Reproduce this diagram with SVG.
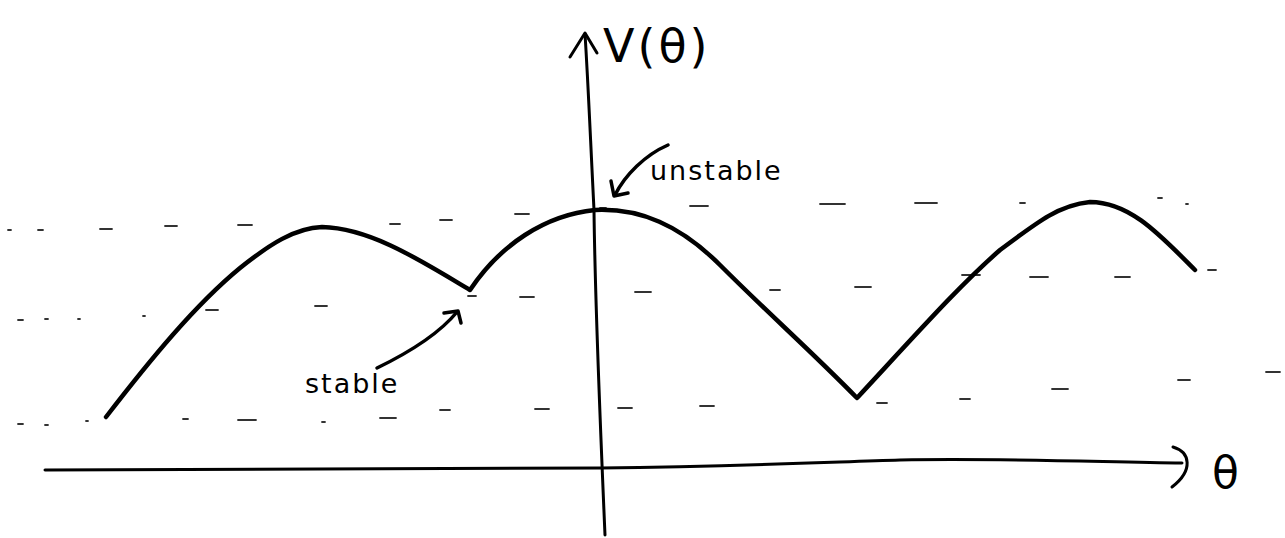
<svg xmlns="http://www.w3.org/2000/svg" width="1285" height="538" viewBox="0 0 1285 538">
<style>
.ink{fill:none;stroke:#000;stroke-linecap:round;stroke-linejoin:round}
.curve{stroke-width:4.5}
.axis{stroke-width:3}
.lbl{stroke-width:3.5}
.dash{stroke:#333;stroke-width:1.8;stroke-linecap:round}
.t{font-family:"DejaVu Sans","Liberation Sans",sans-serif;fill:#000}
</style>
<rect width="1285" height="538" fill="#fff"/>
<g id="guides">
<path class="dash" d="M8 230h3M38 230h5M100 229h12M165 226h12M238 225h14M390 224h10M440 220h12M515 214h14M600 208h6M690 206h18M820 204h25M915 203h22M1020 203h5M1158 198h4M1186 204h2"/>
<path class="dash" d="M18 320h5M45 319h3M78 319h2M143 316h2M206 310h12M315 306h12M468 296h8M520 297h14M635 292h16M770 290h10M855 287h16M962 275h18M1030 277h18M1115 277h15M1208 270h8"/>
<path class="dash" d="M18 424h5M45 425h3M86 421h2M183 419h5M238 420h18M322 422h3M380 418h16M440 410h10M535 409h14M618 408h14M700 406h14M877 403h10M960 399h10M1052 389h16M1178 380h12M1266 372h14"/>
</g>
<g id="curve">
<path class="ink curve" d="M106 417 C150 360 195 305 240 268 C270 244 295 228 322 227 C370 228 420 260 470 290 C500 245 545 215 595 210 C640 208 680 225 720 265 C770 315 810 350 857 398 C920 330 960 285 1000 250 C1040 220 1060 205 1090 202 C1130 202 1160 235 1195 270"/>
</g>
<g id="v-axis">
<path class="ink axis" stroke-width="3.5" d="M605 535 C600 420 595 300 594 210 C590 130 588 80 585 34"/>
<path class="ink axis" stroke-width="3.5" d="M570 57 L585 33 L597 53"/>
<text class="t" x="603" y="62" font-size="46" letter-spacing="3">V(θ)</text>
</g>
<g id="h-axis">
<path class="ink axis" stroke-width="2.5" d="M45 470 C250 470 450 470 600 468 C750 466 830 462 900 460 C1000 458 1100 462 1182 463"/>
<path class="ink axis" d="M1173 447 C1190 452 1194 470 1172 487"/>
<text class="t" x="1212" y="488" font-size="44">θ</text>
</g>
<g id="unstable">
<text class="t" x="650" y="180" font-size="27" letter-spacing="2">unstable</text>
<path class="ink lbl" d="M668 145 C645 155 625 175 615 195"/>
<path class="ink lbl" d="M611 181 L614 196 L628 193"/>
</g>
<g id="stable">
<text class="t" x="305" y="393" font-size="27" letter-spacing="2">stable</text>
<path class="ink lbl" d="M377 368 C410 352 438 335 457 312"/>
<path class="ink lbl" d="M444 313 L458 311 L461 323"/>
</g>
</svg>
